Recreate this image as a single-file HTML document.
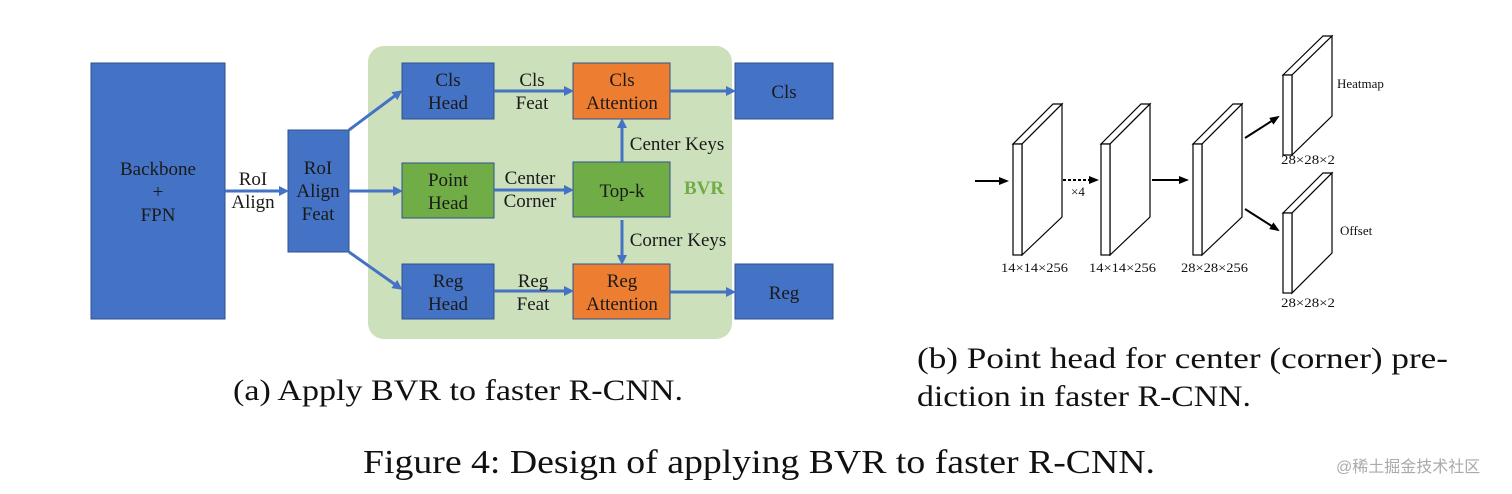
<!DOCTYPE html>
<html><head><meta charset="utf-8"><style>
html,body{margin:0;padding:0;background:#fff;}
svg{display:block;}
text{font-family:"Liberation Serif",serif;}
</style></head><body>
<svg width="1512" height="494" viewBox="0 0 1512 494" xmlns="http://www.w3.org/2000/svg">
<defs>
<marker id="ab" markerWidth="10" markerHeight="10" refX="7" refY="5" orient="auto" markerUnits="userSpaceOnUse"><path d="M0,0 L10,5 L0,10 z" fill="#4472C4"/></marker>
<marker id="ak" markerWidth="10" markerHeight="8" refX="8" refY="4" orient="auto" markerUnits="userSpaceOnUse"><path d="M0,0 L10,4 L0,8 z" fill="#000"/></marker>
</defs>
<rect x="368" y="46" width="364" height="293" rx="16" fill="#CCE0BC"/>
<g stroke="#2F528F" stroke-width="1">
<rect x="91" y="63" width="134" height="256" fill="#4472C4"/>
<rect x="288" y="130" width="61" height="122" fill="#4472C4"/>
<rect x="402" y="63" width="92" height="56" fill="#4472C4"/>
<rect x="573" y="63" width="97" height="56" fill="#ED7D31"/>
<rect x="735" y="63" width="98" height="56" fill="#4472C4"/>
<rect x="402" y="163" width="92" height="55" fill="#70AD47"/>
<rect x="573" y="162" width="97" height="55" fill="#70AD47"/>
<rect x="402" y="264" width="92" height="55" fill="#4472C4"/>
<rect x="573" y="264" width="97" height="55" fill="#ED7D31"/>
<rect x="735" y="264" width="98" height="55" fill="#4472C4"/>
</g>
<g stroke="#4472C4" stroke-width="3" fill="none" marker-end="url(#ab)">
<line x1="225" y1="191" x2="286" y2="191"/>
<line x1="349" y1="130" x2="400" y2="92"/>
<line x1="349" y1="191" x2="400" y2="191"/>
<line x1="349" y1="252" x2="400" y2="288"/>
<line x1="494" y1="91" x2="571" y2="91"/>
<line x1="494" y1="190" x2="571" y2="190"/>
<line x1="494" y1="291" x2="571" y2="291"/>
<line x1="670" y1="91" x2="733" y2="91"/>
<line x1="670" y1="292" x2="733" y2="292"/>
<line x1="622" y1="162" x2="622" y2="121"/>
<line x1="622" y1="220" x2="622" y2="262"/>
</g>
<g font-size="19" text-anchor="middle" fill="#1a1a1a">
<text x="158" y="175">Backbone</text><text x="158" y="198">+</text><text x="158" y="221">FPN</text>
<text x="253" y="185">RoI</text><text x="253" y="208">Align</text>
<text x="318" y="174">RoI</text><text x="318" y="197">Align</text><text x="318" y="220">Feat</text>
<text x="448" y="86">Cls</text><text x="448" y="109">Head</text>
<text x="532" y="86">Cls</text><text x="532" y="109">Feat</text>
<text x="622" y="86">Cls</text><text x="622" y="109">Attention</text>
<text x="784" y="98">Cls</text>
<text x="677" y="150">Center Keys</text>
<text x="448" y="186">Point</text><text x="448" y="209">Head</text>
<text x="530" y="184">Center</text><text x="530" y="207">Corner</text>
<text x="622" y="197">Top-k</text>
<text x="704" y="194" font-weight="bold" fill="#70AD47">BVR</text>
<text x="678" y="246">Corner Keys</text>
<text x="448" y="287">Reg</text><text x="448" y="310">Head</text>
<text x="533" y="287">Reg</text><text x="533" y="310">Feat</text>
<text x="622" y="287">Reg</text><text x="622" y="310">Attention</text>
<text x="784" y="299">Reg</text>
</g>
<g stroke="#000" stroke-width="1.2" fill="#fff">
<path d="M1013,144 L1053,104 L1062,104 L1022,144 z"/><path d="M1022,144 L1062,104 L1062,217 L1022,255 z"/><rect x="1013" y="144" width="9" height="111"/>
<path d="M1101,144 L1141,104 L1150,104 L1110,144 z"/><path d="M1110,144 L1150,104 L1150,217 L1110,255 z"/><rect x="1101" y="144" width="9" height="111"/>
<path d="M1193,144 L1233,104 L1242,104 L1202,144 z"/><path d="M1202,144 L1242,104 L1242,217 L1202,255 z"/><rect x="1193" y="144" width="9" height="111"/>
<path d="M1283,75 L1323,36 L1332,36 L1292,75 z"/><path d="M1292,75 L1332,36 L1332,116 L1292,155 z"/><rect x="1283" y="75" width="9" height="80"/>
<path d="M1283,213 L1323,173 L1332,173 L1292,213 z"/><path d="M1292,213 L1332,173 L1332,253 L1292,293 z"/><rect x="1283" y="213" width="9" height="80"/>
</g>
<g stroke="#000" stroke-width="2" fill="none" marker-end="url(#ak)">
<line x1="975" y1="181" x2="1007" y2="181"/>
<line x1="1063" y1="180" x2="1097" y2="180" stroke-dasharray="3,2"/>
<line x1="1152" y1="180" x2="1187" y2="180"/>
<line x1="1245" y1="138" x2="1278" y2="117"/>
<line x1="1245" y1="209" x2="1278" y2="230"/>
</g>
<g font-size="13" fill="#111">
<text x="1001" y="272" textLength="67" lengthAdjust="spacingAndGlyphs">14×14×256</text>
<text x="1089" y="272" textLength="67" lengthAdjust="spacingAndGlyphs">14×14×256</text>
<text x="1181" y="272" textLength="67" lengthAdjust="spacingAndGlyphs">28×28×256</text>
<text x="1071" y="196">×4</text>
<text x="1281" y="164" textLength="54" lengthAdjust="spacingAndGlyphs">28×28×2</text>
<text x="1281" y="307" textLength="54" lengthAdjust="spacingAndGlyphs">28×28×2</text>
<text x="1337" y="88">Heatmap</text>
<text x="1340" y="235">Offset</text>
</g>
<g font-size="30" fill="#111">
<text x="233" y="400" textLength="450" lengthAdjust="spacingAndGlyphs">(a) Apply BVR to faster R-CNN.</text>
<text x="917" y="368" textLength="531" lengthAdjust="spacingAndGlyphs">(b) Point head for center (corner) pre-</text>
<text x="917" y="406" textLength="334" lengthAdjust="spacingAndGlyphs">diction in faster R-CNN.</text>
<text x="363" y="473" font-size="34" textLength="792" lengthAdjust="spacingAndGlyphs">Figure 4: Design of applying BVR to faster R-CNN.</text>
</g>
<text x="1336" y="472" font-size="16" fill="#aaa" style="font-family:'Liberation Sans','Noto Sans CJK SC',sans-serif">@稀土掘金技术社区</text>
</svg>
</body></html>
